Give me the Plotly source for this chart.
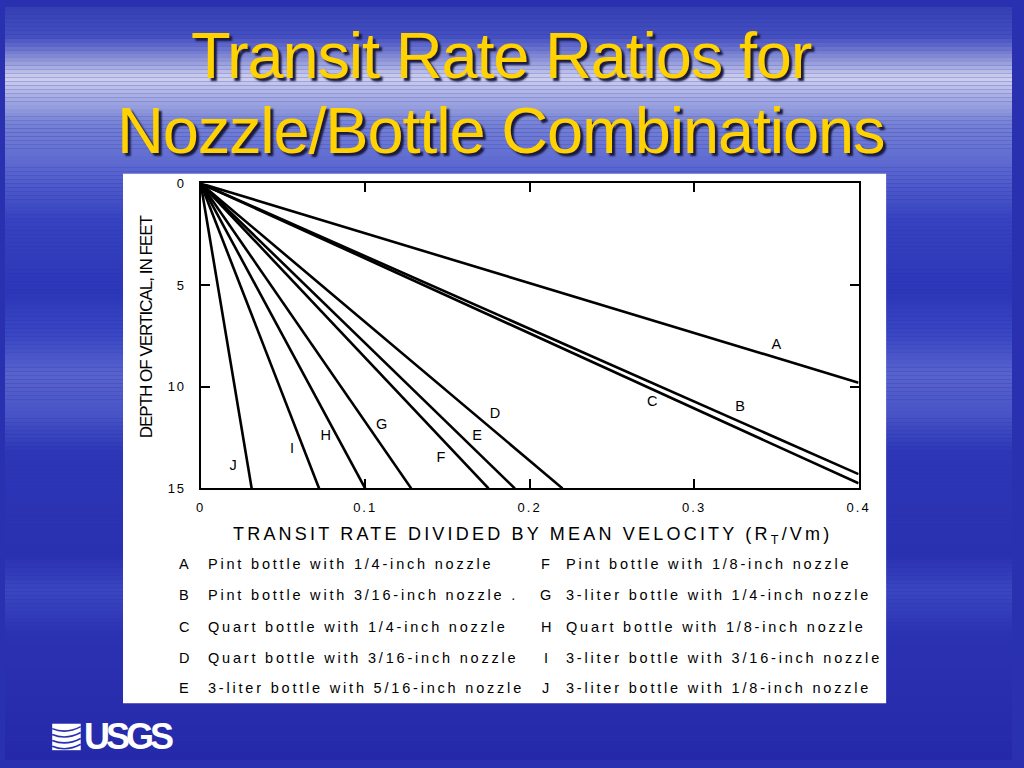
import plotly.graph_objects as go

# ---------------- data ----------------
curve_labels = ["A", "B", "C", "D", "E", "F", "G", "H", "I", "J"]
end_ratio = [0.400, 0.400, 0.400, 0.220, 0.191, 0.175, 0.128, 0.100, 0.072, 0.031]
end_depth = [9.8, 14.3, 14.75, 15.0, 15.0, 15.0, 15.0, 15.0, 15.0, 15.0]
label_ratio = [0.350, 0.328, 0.2745, 0.179, 0.168, 0.146, 0.110, 0.076, 0.0556, 0.0197]
label_depth = [7.96, 11.0, 10.76, 11.34, 12.45, 13.5, 11.9, 12.45, 13.1, 13.9]
descriptions = [
    "Pint bottle with 1/4-inch nozzle",
    "Pint bottle with 3/16-inch nozzle .",
    "Quart bottle with 1/4-inch nozzle",
    "Quart bottle with 3/16-inch nozzle",
    "3-liter bottle with 5/16-inch nozzle",
    "Pint bottle with 1/8-inch nozzle",
    "3-liter bottle with 1/4-inch nozzle",
    "Quart bottle with 1/8-inch nozzle",
    "3-liter bottle with 3/16-inch nozzle",
    "3-liter bottle with 1/8-inch nozzle",
]
x_ticks = [0, 0.1, 0.2, 0.3, 0.4]
x_tick_text = ["0", "0.1", "0.2", "0.3", "0.4"]
y_ticks = [0, 5, 10, 15]
y_tick_text = ["0", "5", "10", "15"]

W, H = 1024, 768
ARIAL = "Liberation Sans, Arial, Helvetica, sans-serif"


def spaced(s, px):
    return '<span style="letter-spacing:%spx">%s</span>' % (px, s)


fig = go.Figure()
for lab, ex, ey in zip(curve_labels, end_ratio, end_depth):
    fig.add_trace(go.Scatter(x=[0, ex], y=[0, ey], mode="lines",
                             line=dict(color="black", width=2.6),
                             name=lab, showlegend=False, hoverinfo="skip"))
fig.add_trace(go.Scatter(x=label_ratio, y=label_depth, mode="text", text=curve_labels,
                         textfont=dict(family=ARIAL, size=14.5, color="black"),
                         showlegend=False, hoverinfo="skip"))

# ---------------- background gradient ----------------
def hx(c):
    return tuple(int(c[i:i + 2], 16) for i in (1, 3, 5))

stops = [(0, "#3440b2"), (30, "#4550c0"), (55, "#8f96d8"), (72, "#cfd1ee"),
         (92, "#a6ace2"), (120, "#7481d4"), (165, "#5a66cf"), (215, "#3743c0"),
         (290, "#2c36b8"), (335, "#3a47c3"), (375, "#5863cc"), (415, "#4854c6"),
         (455, "#2c36b6"), (560, "#2a31b1"), (595, "#3a46c0"), (640, "#2b32b2"),
         (768, "#2529a9")]

def col_at(y):
    for (y0, c0), (y1, c1) in zip(stops, stops[1:]):
        if y0 <= y <= y1:
            t = (y - y0) / (y1 - y0)
            a, b = hx(c0), hx(c1)
            return "rgb(%d,%d,%d)" % tuple(round(a[i] + (b[i] - a[i]) * t) for i in range(3))
    return stops[-1][1]

shapes = []
step = 4
for yp in range(0, H, step):
    shapes.append(dict(type="rect", xref="paper", yref="paper", x0=0, x1=1,
                       y0=1 - (yp + step) / H, y1=1 - yp / H, line=dict(width=0),
                       fillcolor=col_at(yp + step / 2), layer="below"))
# white panel
shapes.append(dict(type="rect", xref="paper", yref="paper", x0=120 / W, x1=896 / W,
                   y0=1 - 710 / H, y1=1 - 170 / H, line=dict(width=0),
                   fillcolor="white", layer="below"))
# USGS emblem
shapes.append(dict(type="rect", xref="paper", yref="paper", x0=48 / W, x1=77 / W,
                   y0=1 - 758 / H, y1=1 - 731 / H, line=dict(width=0),
                   fillcolor="white", layer="above"))
for k in range(4):
    yy = 736 + k * 6
    shapes.append(dict(type="path", xref="paper", yref="paper",
                       path="M %f %f Q %f %f %f %f" % (48 / W, 1 - yy / H, 62 / W, 1 - (yy + 6) / H, 77 / W, 1 - (yy - 2) / H),
                       line=dict(color="#2a31b1", width=1.6), layer="above"))

ann = []
# title
title_font = dict(family=ARIAL, size=65, color="#ffd200", shadow="3px 3px 2px #1a1a40")
ann.append(dict(text=spaced("Transit Rate Ratios for", -1.2), x=505 / W, y=1 - 49 / H, xref="paper", yref="paper",
                showarrow=False, xanchor="center", yanchor="middle", font=title_font))
ann.append(dict(text=spaced("Nozzle/Bottle Combinations", -1.2), x=504 / W, y=1 - 126 / H, xref="paper", yref="paper",
                showarrow=False, xanchor="center", yanchor="middle", font=title_font))
# axis titles
ann.append(dict(text=spaced("TRANSIT RATE DIVIDED BY MEAN VELOCITY (R<sub>T</sub>/Vm)", 3.2),
                x=536 / W, y=1 - 539 / H,
                xref="paper", yref="paper", showarrow=False, xanchor="center", yanchor="middle",
                font=dict(family=ARIAL, size=18, color="black")))
ann.append(dict(text=spaced("DEPTH OF VERTICAL, IN FEET", -1), x=144 / W, y=1 - 326 / H, textangle=-90,
                xref="paper", yref="paper", showarrow=False, xanchor="center", yanchor="middle",
                font=dict(family=ARIAL, size=17, color="black")))
# legend key
row_y = [566, 598, 630, 662, 693]
for i, (lab, desc) in enumerate(zip(curve_labels, descriptions)):
    col = i // 5
    ry = row_y[i % 5] + 2
    lx = 182 if col == 0 else 550
    tx = 204 if col == 0 else 568
    ann.append(dict(text=lab, x=lx / W, y=1 - ry / H, xref="paper", yref="paper", showarrow=False,
                    xanchor="center", yanchor="middle", font=dict(family=ARIAL, size=14.5, color="black")))
    ann.append(dict(text=spaced(desc, 2.8), x=tx / W, y=1 - ry / H, xref="paper", yref="paper", showarrow=False,
                    xanchor="left", yanchor="middle", font=dict(family=ARIAL, size=14.5, color="black")))
# USGS
ann.append(dict(text="<b>" + spaced("USGS", -4) + "</b>", x=78 / W, y=1 - 744 / H, xref="paper", yref="paper",
                showarrow=False, xanchor="left", yanchor="middle",
                font=dict(family=ARIAL, size=36, color="white")))

fig.update_layout(
    width=W, height=H, margin=dict(l=0, r=0, t=0, b=0),
    paper_bgcolor="#2a31b1", plot_bgcolor="rgba(0,0,0,0)",
    shapes=shapes, annotations=ann,
    xaxis=dict(domain=[199 / W, 868 / W], range=[0, 0.4], tickvals=x_ticks,
               ticktext=[spaced(t, 2) for t in x_tick_text],
               showgrid=False, zeroline=False, showline=True, linecolor="black", linewidth=2,
               mirror="ticks", ticks="inside", ticklen=9, tickwidth=2, tickcolor="black",
               tickfont=dict(family=ARIAL, size=13, color="black"), ticklabelstandoff=6),
    yaxis=dict(domain=[1 - 491 / H, 1 - 180 / H], range=[15, 0], tickvals=y_ticks,
               ticktext=[spaced(t, 2) for t in y_tick_text],
               showgrid=False, zeroline=False, showline=True, linecolor="black", linewidth=2,
               mirror="ticks", ticks="inside", ticklen=9, tickwidth=2, tickcolor="black",
               tickfont=dict(family=ARIAL, size=13, color="black"), ticklabelstandoff=10),
)

fig.write_html("out.html", config={"displayModeBar": False},
               post_script="document.documentElement.style.overflow='hidden';"
                           "document.body.style.overflow='hidden';document.body.style.margin='0';")
